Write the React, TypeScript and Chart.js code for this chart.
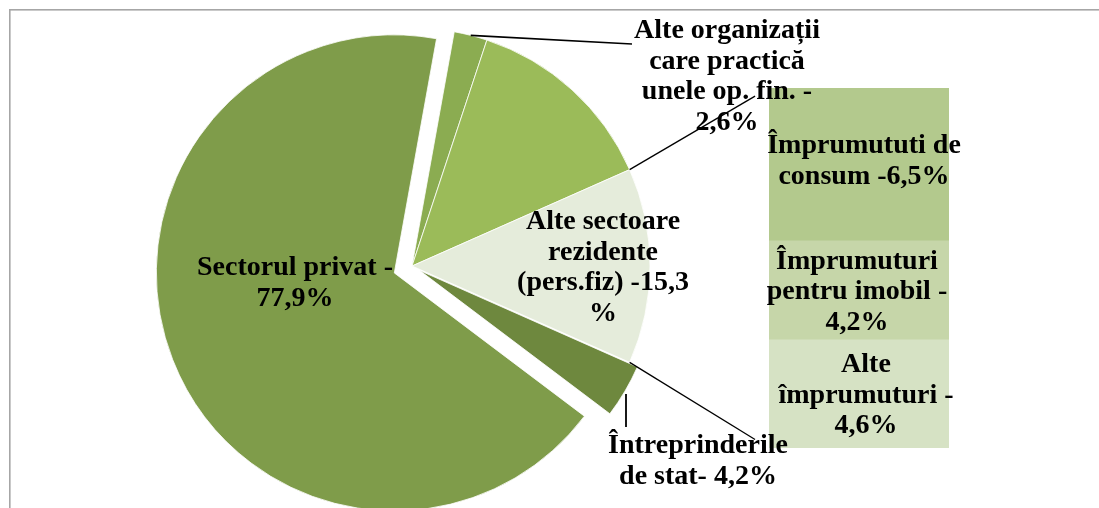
import React, { useEffect, useRef } from 'react';
import { Chart, registerables } from 'chart.js';

Chart.register(...registerables);

// ---------- data ----------
const pieCategories = [
  'Alte organizații care practică unele op. fin.',
  'Alte sectoare rezidente (pers.fiz)',
  'Alte sectoare rezidente - detaliere',
  'Întreprinderile de stat',
  'Sectorul privat',
];
const pieValues = [2.6, 15.3, 15.3, 4.2, 77.9];
const otherSliceIndex = 2; // slice broken down in the bar

const barCategories = ['Alte împrumuturi', 'Împrumuturi pentru imobil', 'Împrumututi de consum'];
const barValues = [4.6, 4.2, 6.5];

const pieLabelLines: (string[] | null)[] = [
  ['Alte organizații', 'care practică', 'unele op. fin. -', '2,6%'],
  null,
  ['Alte sectoare', 'rezidente', '(pers.fiz) -15,3', '%'],
  ['Întreprinderile', 'de stat- 4,2%'],
  ['Sectorul privat -', '77,9%'],
];
const barLabelLines = [
  ['Alte', 'împrumuturi -', '4,6%'],
  ['Împrumuturi', 'pentru imobil -', '4,2%'],
  ['Împrumututi de', 'consum -6,5%'],
];

// ---------- styles / layout ----------
const W = 1099;
const H = 508;
const CANVAS_H = 532;
const PIE_CX = 412;
const PIE_RADIUS = 238;
const BAR_LEFT = 769;
const BAR_RIGHT = 949;
const BAR_TOP = 88;
const BAR_BOTTOM = 448;

const pieColors = ['#8BAC51', '#9BBB59', '#E5ECDB', '#6E883E', '#7F9C4A'];
const barColors = ['#D6E2C4', '#C6D6A9', '#B3C98D'];
const explodePx = [0, 0, 0, 9, 19];

const FONT = 'bold 28px "Liberation Serif", "Times New Roman", serif';
const LINE_H = 30.5;

// label anchors relative to the pie centre: [dx of text centre, dy of first baseline]
const pieLabelPos: ([number, number] | null)[] = [
  [315, -228],
  null,
  [191, -37],
  [286, 187],
  [-117, 9],
];
// bar label tweaks: [dx, dy]
const barLabelShift: [number, number][] = [
  [7, 0],
  [-2, 0],
  [5, -5],
];

function drawLines(ctx: CanvasRenderingContext2D, lines: string[], cx: number, baseline: number) {
  ctx.save();
  ctx.font = FONT;
  ctx.fillStyle = '#000';
  ctx.textAlign = 'center';
  ctx.textBaseline = 'alphabetic';
  lines.forEach((l, i) => ctx.fillText(l, cx, baseline + i * LINE_H));
  ctx.restore();
}

function line(ctx: CanvasRenderingContext2D, x1: number, y1: number, x2: number, y2: number, w: number) {
  ctx.save();
  ctx.strokeStyle = '#000';
  ctx.lineWidth = w;
  ctx.beginPath();
  ctx.moveTo(x1, y1);
  ctx.lineTo(x2, y2);
  ctx.stroke();
  ctx.restore();
}

export default function App() {
  const pieRef = useRef<HTMLCanvasElement>(null);
  const barRef = useRef<HTMLCanvasElement>(null);

  useEffect(() => {
    if (!pieRef.current || !barRef.current) return;
    const total = pieValues.reduce((a, b) => a + b, 0);
    const before = pieValues.slice(0, otherSliceIndex).reduce((a, b) => a + b, 0);
    const rotation = 90 - ((before + pieValues[otherSliceIndex] / 2) / total) * 360;

    const framePlugin = {
      id: 'frame',
      beforeDraw(chart: any) {
        const ctx = chart.ctx;
        ctx.save();
        ctx.strokeStyle = '#A6A6A6';
        ctx.lineWidth = 1.6;
        ctx.strokeRect(9.8, 9.8, 2000, 2000);
        ctx.restore();
      },
    };

    const explodePlugin = {
      id: 'explode',
      beforeDatasetDraw(chart: any, args: any) {
        const ctx = chart.ctx;
        args.meta.data.forEach((arc: any, i: number) => {
          const d = explodePx[i] || 0;
          const mid = (arc.startAngle + arc.endAngle) / 2;
          ctx.save();
          ctx.translate(Math.cos(mid) * d, Math.sin(mid) * d);
          arc.draw(ctx);
          ctx.restore();
        });
        return false;
      },
    };

    const pie = new Chart(pieRef.current, {
      type: 'pie',
      data: {
        labels: pieCategories,
        datasets: [
          {
            data: pieValues,
            backgroundColor: pieColors,
            borderColor: '#FFFFFF',
            borderWidth: 0.8,
          },
        ],
      },
      options: {
        responsive: false,
        animation: false,
        events: [],
        rotation,
        radius: PIE_RADIUS,
        layout: { padding: { left: 0, top: 0, right: W - 2 * PIE_CX, bottom: 0 } },
        plugins: { legend: { display: false }, tooltip: { enabled: false } },
      } as any,
      plugins: [framePlugin, explodePlugin],
    });

    // all text and leader lines are drawn on the top (bar) canvas
    const overlayPlugin = {
      id: 'overlay',
      afterDraw(chart: any) {
        const ctx = chart.ctx;
        const n = barValues.length;
        const arcs = pie.getDatasetMeta(0).data as any[];
        const cx = arcs[0].x;
        const cy = arcs[0].y;

        // bar segment labels
        for (let i = 0; i < n; i++) {
          const el = chart.getDatasetMeta(i).data[0];
          const cyv = (el.y + el.base) / 2;
          const lines = barLabelLines[i];
          const first = cyv - ((lines.length - 1) * LINE_H) / 2 + 9 + barLabelShift[i][1];
          drawLines(ctx, lines, el.x + barLabelShift[i][0], first);
        }
        // pie labels
        pieLabelLines.forEach((lines, i) => {
          const p = pieLabelPos[i];
          if (!lines || !p) return;
          drawLines(ctx, lines, cx + p[0], cy + p[1]);
        });

        // leader for the small slice
        const a0 = arcs[0];
        const mid0 = (a0.startAngle + a0.endAngle) / 2;
        line(ctx, cx + Math.cos(mid0) * a0.outerRadius, cy + Math.sin(mid0) * a0.outerRadius, cx + 220, cy - 222, 1.6);
        // short vertical leader for Întreprinderile
        line(ctx, cx + 214, cy + 128, cx + 214, cy + 161, 1.8);

        // connectors from the "other" slice to the bar
        const bottomEl = chart.getDatasetMeta(0).data[0];
        const topEl = chart.getDatasetMeta(n - 1).data[0];
        const left = bottomEl.x - bottomEl.width / 2;
        const o = arcs[otherSliceIndex];
        const p1 = { x: o.x + Math.cos(o.startAngle) * o.outerRadius, y: o.y + Math.sin(o.startAngle) * o.outerRadius };
        const p2 = { x: o.x + Math.cos(o.endAngle) * o.outerRadius, y: o.y + Math.sin(o.endAngle) * o.outerRadius };
        const t1 = { x: left, y: topEl.y };
        const t2 = { x: left, y: bottomEl.base };
        const f = 0.9;
        line(ctx, p1.x, p1.y, p1.x + (t1.x - p1.x) * f, p1.y + (t1.y - p1.y) * f, 1.3);
        line(ctx, p2.x, p2.y, p2.x + (t2.x - p2.x) * f, p2.y + (t2.y - p2.y) * f, 1.3);
      },
    };

    const barTotal = barValues.reduce((a, b) => a + b, 0);
    const bar = new Chart(barRef.current, {
      type: 'bar',
      data: {
        labels: ['Alte sectoare rezidente'],
        datasets: barCategories.map((c, i) => ({
          label: c,
          data: [barValues[i]],
          backgroundColor: barColors[i],
          borderWidth: 0,
          categoryPercentage: 1,
          barPercentage: 1,
        })),
      },
      options: {
        responsive: false,
        animation: false,
        events: [],
        layout: {
          padding: { left: BAR_LEFT, right: W - BAR_RIGHT, top: BAR_TOP, bottom: CANVAS_H - BAR_BOTTOM },
        },
        scales: {
          x: { display: false, stacked: true },
          y: { display: false, stacked: true, min: 0, max: barTotal },
        },
        plugins: { legend: { display: false }, tooltip: { enabled: false } },
      } as any,
      plugins: [overlayPlugin],
    });

    return () => {
      bar.destroy();
      pie.destroy();
    };
  }, []);

  return (
    <div
      style={{
        position: 'fixed',
        left: 0,
        top: 0,
        width: W,
        height: H,
        overflow: 'hidden',
        background: '#FFFFFF',
      }}
    >
      <canvas ref={pieRef} width={W} height={CANVAS_H} style={{ position: 'absolute', left: 0, top: 0 }} />
      <canvas ref={barRef} width={W} height={CANVAS_H} style={{ position: 'absolute', left: 0, top: 0 }} />
    </div>
  );
}
